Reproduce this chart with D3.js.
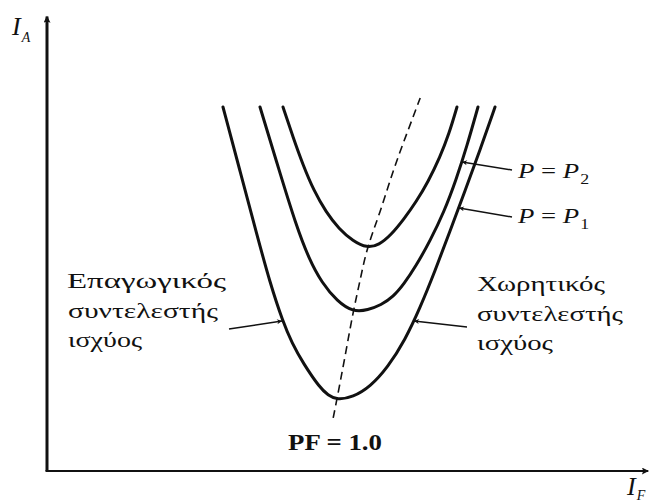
<!DOCTYPE html>
<html>
<head>
<meta charset="utf-8">
<script src="https://cdn.jsdelivr.net/npm/d3@7"></script>
<style>
  html, body { margin: 0; padding: 0; background: #fff; }
  svg { display: block; }
  text { font-family: "Liberation Serif", "Times New Roman", serif; fill: #111; }
</style>
</head>
<body>
<svg id="chart" width="649" height="502"></svg>
<script>
// Synchronous motor V-curves: armature current I_A against field current I_F
// (arbitrary units, 0–100 on both axes)

// outer curve, P = P1
const curveP1 = [
  [29.33, 80.89], [32.17, 66.67], [35.00, 52.44], [37.17, 41.78], [39.33, 33.11],
  [40.83, 28.44], [42.67, 24.00], [45.50, 18.44], [46.83, 16.89], [48.33, 15.78],
  [51.00, 16.44], [53.83, 18.67], [56.83, 23.11], [59.67, 29.11], [62.17, 36.22],
  [64.67, 44.44], [67.17, 53.33], [69.67, 62.22], [72.17, 71.33], [74.67, 80.89]
];
// middle curve, P = P2
const curveP2 = [
  [35.50, 80.89], [38.67, 66.89], [41.50, 54.67], [43.67, 47.11], [45.83, 41.78],
  [48.33, 37.78], [51.00, 35.33], [53.50, 35.78], [55.67, 36.89], [57.67, 38.67],
  [59.50, 41.56], [61.50, 45.56], [63.83, 51.11], [66.17, 57.56], [68.17, 64.67],
  [70.00, 72.22], [71.83, 80.89]
];
// inner curve, highest load
const curveP3 = [
  [39.33, 80.89], [41.00, 74.22], [42.67, 68.00], [44.50, 62.22], [46.50, 57.56],
  [48.67, 53.78], [51.00, 51.11], [53.33, 49.56], [55.33, 50.22], [57.33, 52.44],
  [59.50, 56.00], [61.50, 59.78], [63.50, 64.22], [65.50, 69.78], [67.00, 74.89],
  [68.33, 80.89]
];
// locus of unity power factor through the minima
const unityPF = [
  [47.7, 11.8], [48.3, 15.8], [49.7, 25.6], [51.0, 35.3], [52.2, 42.4],
  [53.3, 49.6], [55.5, 57.3], [57.7, 66.9], [60.0, 75.1], [62.2, 82.9]
];

const axisLabelY = ["I", "A"];
const axisLabelX = ["I", "F"];
const labelP2 = ["P", "P", "2"];
const labelP1 = ["P", "P", "1"];
const lagLines = ["Επαγωγικός", "συντελεστής", "ισχύος"];
const leadLines = ["Χωρητικός", "συντελεστής", "ισχύος"];
const pfLabel = "PF = 1.0";

const svg = d3.select("#chart");

const x = d3.scaleLinear().domain([0, 100]).range([47, 647]);
const y = d3.scaleLinear().domain([0, 100]).range([471, 21]);

const defs = svg.append("defs");
defs.append("marker")
  .attr("id", "axisHead")
  .attr("viewBox", "0 0 10 10")
  .attr("refX", 9).attr("refY", 5)
  .attr("markerWidth", 10).attr("markerHeight", 7)
  .attr("markerUnits", "userSpaceOnUse")
  .attr("orient", "auto")
  .append("path").attr("d", "M0,0 L10,5 L0,10 L2,5 Z").attr("fill", "#111");
defs.append("marker")
  .attr("id", "leaderHead")
  .attr("viewBox", "0 0 10 10")
  .attr("refX", 10).attr("refY", 5)
  .attr("markerWidth", 10).attr("markerHeight", 5)
  .attr("markerUnits", "userSpaceOnUse")
  .attr("orient", "auto")
  .append("path").attr("d", "M0,0 L10,5 L0,10 L3,5 Z").attr("fill", "#111");

// axes
svg.append("line")
  .attr("x1", x(0)).attr("y1", y(0))
  .attr("x2", x(0)).attr("y2", y(101))
  .attr("stroke", "#111").attr("stroke-width", 3)
  .attr("marker-end", "url(#axisHead)");
svg.append("line")
  .attr("x1", x(0) - 1.5).attr("y1", y(0))
  .attr("x2", x(100.2)).attr("y2", y(0))
  .attr("stroke", "#111").attr("stroke-width", 2)
  .attr("marker-end", "url(#axisHead)");

// curves
const line = d3.line()
  .x(d => x(d[0])).y(d => y(d[1]))
  .curve(d3.curveBasis);

svg.selectAll("path.vcurve")
  .data([curveP1, curveP2, curveP3])
  .join("path")
  .attr("class", "vcurve")
  .attr("d", line)
  .attr("fill", "none")
  .attr("stroke", "#111")
  .attr("stroke-width", 3)
  .attr("stroke-linecap", "round");

svg.append("path")
  .datum(unityPF)
  .attr("d", line)
  .attr("fill", "none")
  .attr("stroke", "#111")
  .attr("stroke-width", 1.6)
  .attr("stroke-dasharray", "8,5");

// leader lines: tail in pixels next to the label, tip on the curve (data units)
const leaders = [
  { from: [512, 170], to: [69.17, 68.67] },
  { from: [512, 217], to: [68.67, 58.44] },
  { from: [229, 329], to: [39.17, 33.33] },
  { from: [467, 327], to: [61.17, 33.33] }
];
svg.selectAll("line.leader")
  .data(leaders)
  .join("line")
  .attr("class", "leader")
  .attr("x1", d => d.from[0]).attr("y1", d => d.from[1])
  .attr("x2", d => x(d.to[0])).attr("y2", d => y(d.to[1]))
  .attr("stroke", "#111").attr("stroke-width", 1.5)
  .attr("marker-end", "url(#leaderHead)");

// place a text element at (px, baseline) and stretch it to the given width
function fitText(t, px, base, width) {
  const w = t.node().getComputedTextLength();
  const s = width ? width / w : 1;
  t.attr("transform", `translate(${px},${base}) scale(${s},1)`);
  return t;
}

// axis titles
function subLabel(parts, px, base, size, subSize, drop) {
  const t = svg.append("text").attr("x", 0).attr("y", 0)
    .style("font-size", size + "px").style("font-style", "italic");
  t.append("tspan").text(parts[0]);
  t.append("tspan").text(parts[1])
    .style("font-size", subSize + "px").attr("dx", 1).attr("dy", drop);
  t.attr("transform", `translate(${px},${base})`);
}
subLabel(axisLabelY, 12, 35, 26, 14, 7);
subLabel(axisLabelX, 627, 495, 26, 14, 5);

// P = P2 / P = P1
function powerLabel(parts, px, base, width) {
  const t = svg.append("text").attr("x", 0).attr("y", 0).style("font-size", "21px");
  t.append("tspan").text(parts[0]).style("font-style", "italic");
  t.append("tspan").text(" = ");
  t.append("tspan").text(parts[1]).style("font-style", "italic");
  t.append("tspan").text(parts[2]).style("font-size", "14px").attr("dx", 1).attr("dy", 6);
  fitText(t, px, base, width);
}
powerLabel(labelP2, 518, 178, 70);
powerLabel(labelP1, 518, 223, 70);

// power-factor region labels
const lagLayout = [[67, 288, 159], [68, 318, 150], [68, 347, 74]];
const leadLayout = [[477, 291, 128], [477, 321, 146], [477, 350, 76]];
lagLines.forEach((s, i) => {
  const t = svg.append("text").style("font-size", "21px").text(s);
  fitText(t, ...lagLayout[i]);
});
leadLines.forEach((s, i) => {
  const t = svg.append("text").style("font-size", "21px").text(s);
  fitText(t, ...leadLayout[i]);
});

// unity power factor label
const pf = svg.append("text").style("font-size", "24px").style("font-weight", "bold").text(pfLabel);
fitText(pf, 288, 450, 94);
</script>
</body>
</html>
